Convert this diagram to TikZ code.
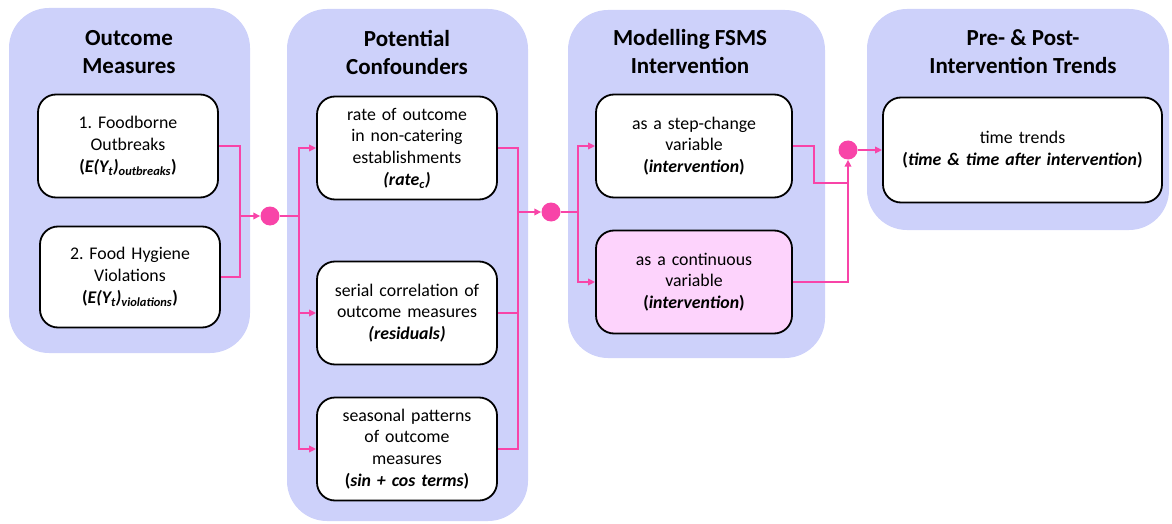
\documentclass[tikz,border=0pt]{standalone}
\usepackage{fontspec}
\setmainfont{Carlito}
\usepackage{xcolor}
\definecolor{panelbg}{HTML}{CDD1FA}
\definecolor{linkpink}{HTML}{F844A8}
\definecolor{softpink}{HTML}{FDD3FC}
\usepackage{tikz}
\usetikzlibrary{arrows.meta,positioning}
\frenchspacing

\begin{document}
\begin{tikzpicture}[x=1pt,y=-1pt,
  panel/.style={rectangle,rounded corners=40pt,fill=panelbg,inner sep=0pt},
  title/.style={align=center,font=\fontsize{23}{28}\selectfont\bfseries},
  item/.style={rectangle,rounded corners=18pt,draw=black,line width=1.8pt,fill=white,
    align=center,minimum height=103pt,inner sep=3pt,font=\fontsize{17.8}{21.8}\selectfont},
  dot/.style={circle,fill=linkpink,inner sep=0pt,minimum size=19pt},
  link/.style={draw=linkpink,line width=2pt},
  arr/.style={link,-{Triangle[length=7pt,width=6.5pt]}}]
  \useasboundingbox (0,0) rectangle (1172,524);
  % panels
  \node[panel,minimum width=241pt,minimum height=345pt] (P1) at (129.5,180.5) {};
  \node[panel,minimum width=241pt,minimum height=512pt] (P2) at (407.5,265) {};
  \node[panel,minimum width=257pt,minimum height=348pt] (P3) at (696.5,184) {};
  \node[panel,minimum width=302pt,minimum height=221pt] (P4) at (1018,119.5) {};
  \node[title] (T1) at (129,52) {Outcome\\Measures};
  \node[title] (T2) at (407,52) {Potential\\Confounders};
  \node[title] (T3) at (690,52) {Modelling FSMS\\Intervention};
  \node[title] (T4) at (1023,52) {Pre- \& Post-\\Intervention Trends};
  % outcome measures
  \node[item,text width=174pt] (o1) at (128,146)
    {1. Foodborne\\Outbreaks\\\textbf{(\textit{E(Y\textsubscript{t})\textsubscript{outbreaks}})}};
  \node[item,text width=174pt,minimum height=101pt] (o2) at (130,277)
    {2. Food Hygiene\\Violations\\\textbf{(\textit{E(Y\textsubscript{t})\textsubscript{violations}})}};
  % confounders
  \node[item,text width=174pt] (cA) at (407,148)
    {rate of outcome\\in non-catering\\establishments\\\textbf{\textit{(rate\textsubscript{c})}}};
  \node[item,text width=174pt] (cB) at (407,313)
    {serial correlation of\\outcome measures\\\textbf{\textit{(residuals)}}};
  \node[item,text width=174pt] (cC) at (407,449)
    {seasonal patterns\\of outcome\\measures\\\textbf{(\textit{sin + cos terms})}};
  % intervention
  \node[item,text width=190pt] (mS) at (694,146)
    {as a step-change\\variable\\\textbf{(\textit{intervention})}};
  \node[item,text width=190pt,fill=softpink] (mC) at (694,282)
    {as a continuous\\variable\\\textbf{(\textit{intervention})}};
  % trends
  \node[item,text width=273pt,minimum height=105pt] (tT) at (1022.5,150)
    {time trends\\\textbf{(\textit{time \& time after intervention})}};
  % junctions
  \node[dot] (d1) at (270,216) {};
  \node[dot] (d2) at (551,212) {};
  \node[dot] (d3) at (848,150) {};
  \coordinate (j1) at (240,216);
  \coordinate (j2) at (299,216);
  \coordinate (j3) at (518,212);
  \coordinate (j4) at (578,212);
  \coordinate (j5) at (814,183);
  % connectors
  \draw[link] (o1.east) -| (j1) |- (o2.east);
  \draw[arr] (j1) -- (d1);
  \draw[link] (d1) -- (j2);
  \foreach \n in {cA,cB,cC} \draw[arr] (j2) |- (\n.west);
  \draw[link] (cA.east) -| (j3) |- (cC.east);
  \draw[link] (cB.east) -- (cB.east -| j3);
  \draw[arr] (j3) -- (d2);
  \draw[link] (d2) -- (j4);
  \foreach \n in {mS,mC} \draw[arr] (j4) |- (\n.west);
  \draw[link] (mS.east) -| (j5) -- (j5 -| d3);
  \draw[arr] (mC.east) -| (d3);
  \draw[arr] (d3) -- (d3 -| tT.west);
\end{tikzpicture}
\end{document}
